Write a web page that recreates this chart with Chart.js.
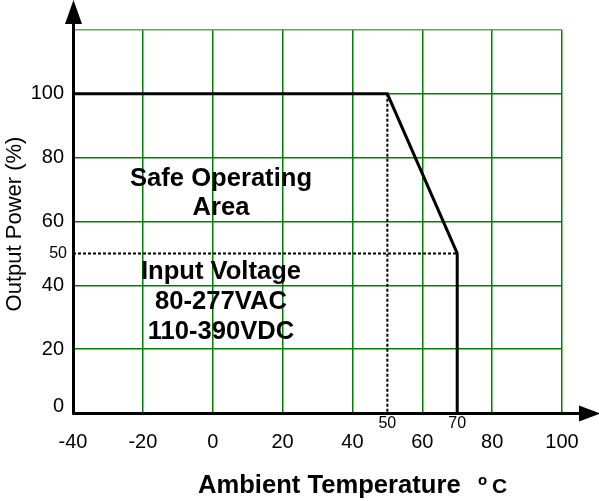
<!DOCTYPE html>
<html>
<head>
<meta charset="utf-8">
<script src="https://cdn.jsdelivr.net/npm/chart.js@4.4.1/dist/chart.umd.min.js"></script>
<style>
  html, body { margin: 0; padding: 0; background: #fff; }
  canvas { display: block; }
</style>
</head>
<body>
<canvas id="derating" width="599" height="501"></canvas>
<script>
// Derating curve (ambient temp vs output power)
const curveTemp  = [-40, 50, 70, 70];
const curvePower = [100, 100, 50, 0];
// dashed guide lines
const guideVTemp  = [50, 50];
const guideVPower = [100, 0];
const guideHTemp  = [-40, 70];
const guideHPower = [50, 50];

// tick labels
const xTicks = [-40, -20, 0, 20, 40, 60, 80, 100];
const yTicks = [0, 20, 40, 60, 80, 100];
const xMarks = [50, 70];
const yMarks = [50];

const FONT = '"Liberation Sans", Arial, sans-serif';
const GREEN = 'rgb(0,128,0)';
const GREEN_LIGHT = 'rgb(90,170,90)';

const toPoints = (xs, ys) => xs.map((x, i) => ({ x: x, y: ys[i] }));

// axes with arrows + all the text
const deratingDecor = {
  id: 'deratingDecor',
  afterDatasetsDraw(chart) {
    const ctx = chart.ctx;
    const xs = chart.scales.x, ys = chart.scales.y;
    const x0 = xs.getPixelForValue(xs.min) + 0.5;
    const y0 = ys.getPixelForValue(ys.min) + 0.5;
    ctx.save();

    // axis lines
    ctx.strokeStyle = '#000';
    ctx.fillStyle = '#000';
    ctx.lineWidth = 3;
    ctx.beginPath();
    ctx.moveTo(x0, y0 + 1);
    ctx.lineTo(x0, 22);
    ctx.moveTo(x0 - 1, y0);
    ctx.lineTo(581, y0);
    ctx.stroke();
    // arrow heads
    ctx.beginPath();
    ctx.moveTo(x0, 0);
    ctx.lineTo(x0 - 8.5, 24);
    ctx.lineTo(x0 + 8.5, 24);
    ctx.closePath();
    ctx.fill();
    ctx.beginPath();
    ctx.moveTo(600, y0);
    ctx.lineTo(579, y0 - 8);
    ctx.lineTo(579, y0 + 8);
    ctx.closePath();
    ctx.fill();

    // tick labels
    ctx.font = '20px ' + FONT;
    ctx.textAlign = 'right';
    ctx.textBaseline = 'middle';
    yTicks.forEach(v => {
      let py = ys.getPixelForValue(v);
      if (v === 0) py -= 7;
      ctx.fillText(String(v), 64, py);
    });
    ctx.textAlign = 'center';
    xTicks.forEach(v => {
      ctx.fillText(String(v), xs.getPixelForValue(v), 442);
    });
    ctx.font = '16px ' + FONT;
    xMarks.forEach(v => {
      ctx.fillText(String(v), xs.getPixelForValue(v), 424);
    });
    ctx.textAlign = 'right';
    yMarks.forEach(v => {
      ctx.fillText(String(v), 67, ys.getPixelForValue(v));
    });

    // axis titles
    ctx.font = 'bold 25.6px ' + FONT;
    ctx.textAlign = 'left';
    ctx.textBaseline = 'alphabetic';
    ctx.fillText('Ambient Temperature', 198, 493);
    ctx.font = 'bold 15px ' + FONT;
    ctx.fillText('o', 478, 485);
    ctx.font = 'bold 21px ' + FONT;
    ctx.fillText('C', 492, 493);

    ctx.save();
    ctx.translate(15, 224);
    ctx.rotate(-Math.PI / 2);
    ctx.font = '22px ' + FONT;
    ctx.textAlign = 'center';
    ctx.textBaseline = 'middle';
    ctx.fillText('Output Power (%)', 0, 0);
    ctx.restore();

    // notes inside the plot
    ctx.font = 'bold 25.6px ' + FONT;
    ctx.textAlign = 'center';
    ctx.fillText('Safe Operating', 221, 186);
    ctx.fillText('Area', 221, 215);
    ctx.fillText('Input Voltage', 221, 279);
    ctx.fillText('80-277VAC', 221, 309);
    ctx.fillText('110-390VDC', 221, 339);

    ctx.restore();
  }
};

new Chart(document.getElementById('derating').getContext('2d'), {
  type: 'scatter',
  data: {
    datasets: [
      {
        data: toPoints(guideVTemp, guideVPower),
        showLine: true,
        borderColor: '#000',
        borderWidth: 2,
        borderDash: [3, 2],
        pointRadius: 0
      },
      {
        data: toPoints(guideHTemp, guideHPower),
        showLine: true,
        borderColor: '#000',
        borderWidth: 2,
        borderDash: [3, 2],
        pointRadius: 0
      },
      {
        data: toPoints(curveTemp, curvePower),
        showLine: true,
        borderColor: '#000',
        borderWidth: 3,
        borderJoinStyle: 'miter',
        pointRadius: 0
      }
    ]
  },
  options: {
    responsive: false,
    animation: false,
    layout: { padding: { left: 73, right: 37, top: 30, bottom: 88 } },
    plugins: {
      legend: { display: false },
      tooltip: { enabled: false }
    },
    scales: {
      x: {
        type: 'linear',
        min: -40,
        max: 100,
        ticks: { display: false, stepSize: 20 },
        border: { display: false },
        grid: { drawTicks: false, lineWidth: 1.5, color: GREEN }
      },
      y: {
        type: 'linear',
        min: 0,
        max: 120,
        ticks: { display: false, stepSize: 20 },
        border: { display: false },
        grid: {
          drawTicks: false,
          lineWidth: 1.5,
          // top line (120) is paler in the original
          color: [GREEN, GREEN, GREEN, GREEN, GREEN, GREEN, GREEN_LIGHT]
        }
      }
    }
  },
  plugins: [deratingDecor]
});
</script>
</body>
</html>
